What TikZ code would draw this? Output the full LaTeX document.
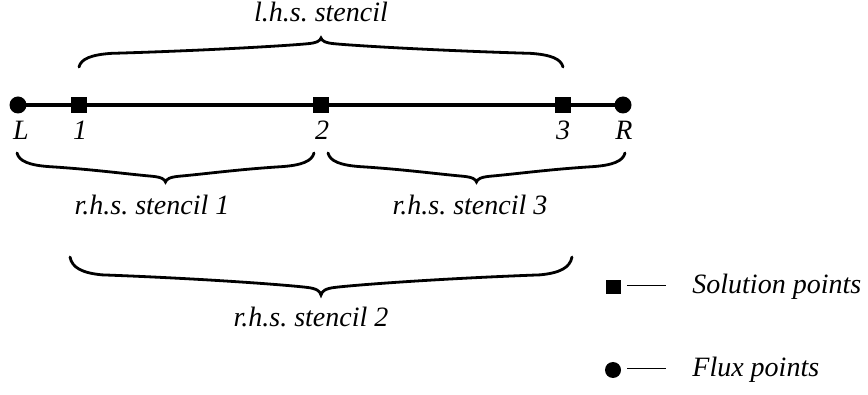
\documentclass[tikz,border=0pt]{standalone}
\usepackage{fontspec}
\setmainfont{Liberation Serif}
\usetikzlibrary{calc}
\newcommand{\cbrace}[4]{% #1 x left, #2 x right, #3 y of ends, #4 signed amplitude
  \pgfmathsetmacro{\hw}{(#2-#1)/2}%
  \begin{scope}[shift={(#1,#3)}]
    \draw[brcline] (0,0) .. controls (2,0.28*#4) and (12,0.42*#4) .. (32,0.47*#4)
      .. controls (0.5*\hw,0.56*#4) and (\hw-40,0.72*#4) .. (\hw-14,0.8*#4)
      .. controls (\hw-4,0.83*#4) and (\hw-1,0.9*#4) .. (\hw,#4)
      .. controls (\hw+1,0.9*#4) and (\hw+4,0.83*#4) .. (\hw+14,0.8*#4)
      .. controls (\hw+40,0.72*#4) and (1.5*\hw,0.56*#4) .. (2*\hw-32,0.47*#4)
      .. controls (2*\hw-12,0.42*#4) and (2*\hw-2,0.28*#4) .. (2*\hw,0);
  \end{scope}}
\begin{document}
\frenchspacing
\begin{tikzpicture}[x=0.5pt,y=-0.5pt,
  lbl/.style={font=\fontsize{14}{16}\selectfont\itshape, inner sep=0, anchor=base},
  flux/.style={circle, fill=black, minimum size=8.5pt, inner sep=0},
  sol/.style={rectangle, fill=black, minimum size=8pt, inner sep=0},
  lflux/.style={circle, fill=black, minimum size=8pt, inner sep=0},
  lsol/.style={rectangle, fill=black, minimum width=7.5pt, minimum height=7pt, inner sep=0},
  brcline/.style={line width=1.4pt, line cap=round},
]
\useasboundingbox (0,0) rectangle (868,395);
% main line and points
\node[flux] (L) at (18,105) {};
\node[sol] (p1) at (79,105) {};
\node[sol] (p2) at (321,105) {};
\node[sol] (p3) at (563,105) {};
\node[flux] (R) at (623,105) {};
\draw[line width=2.2pt] (L.center) -- (R.center);
% point labels
\node[lbl] (tL) at (21,140) {L};
\node[lbl] (t1) at (80,140) {1};
\node[lbl] (t2) at (322,140) {2};
\node[lbl] (t3) at (563,140) {3};
\node[lbl] (tR) at (624,140) {R};
% braces
\cbrace{79}{563}{67}{-29}
\node[lbl] (lhs) at (321,22) {l.h.s. stencil};
\cbrace{17}{314}{153}{29}
\node[lbl] (rhs1) at (152,215) {r.h.s. stencil 1};
\cbrace{328}{625}{153}{29}
\node[lbl] (rhs3) at (470,215) {r.h.s. stencil 3};
\cbrace{70}{572}{257}{38}
\node[lbl] (rhs2) at (311,327) {r.h.s. stencil 2};
% legend
\node[lsol] (ls) at (613,287) {};
\coordinate (lse) at (666,286);
\draw[line width=0.5pt] ($(ls.east)+(6,-1)$) -- (lse);
\node[lbl, anchor=base west] (lst) at (692,294) {Solution points};
\node[lflux] (lf) at (613,370) {};
\coordinate (lfe) at (666,369);
\draw[line width=0.5pt] ($(lf.east)+(6,-1)$) -- (lfe);
\node[lbl, anchor=base west] (lft) at (692,377) {Flux points};
\end{tikzpicture}
\end{document}
